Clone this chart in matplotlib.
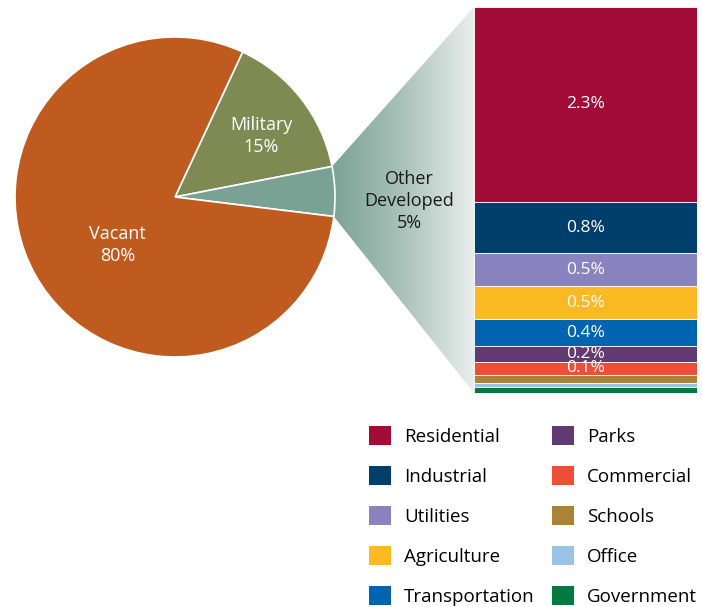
import numpy as np
import matplotlib.pyplot as plt
from matplotlib.patches import Patch, Polygon
from matplotlib.colors import LinearSegmentedColormap

plt.rcParams['font.family'] = ['Open Sans', 'DejaVu Sans']

# land area split (percent)
pie_labels = ['Military\n15%', 'Other\nDeveloped\n5%', 'Vacant\n80%']
pie_values = [15, 5, 80]
pie_colors = ['#7f8a52', '#79a294', '#c05b1f']

# breakdown of "Other Developed", segment sizes as drawn (percent)
land_uses = ['Residential', 'Industrial', 'Utilities', 'Agriculture', 'Transportation',
             'Parks', 'Commercial', 'Schools', 'Office', 'Government']
use_values = [2.53, 0.67, 0.43, 0.43, 0.34, 0.21, 0.17, 0.11, 0.05, 0.075]
use_labels = ['2.3%', '0.8%', '0.5%', '0.5%', '0.4%', '0.2%', '0.1%', '', '', '']
use_colors = ['#a20c37', '#003f6b', '#8983bf', '#fbb924', '#0064b0',
              '#623a73', '#ec4e37', '#ab823a', '#9ac3e8', '#007a3e']

W, H = 702, 607
fig = plt.figure(figsize=(W / 100, H / 100), dpi=100)

# background axes in pixel units, holds the connector fan
bg = fig.add_axes([0, 0, 1, 1])

# pie
cx, cy, r = 175, 197, 160
pad = 1.05
ax_pie = fig.add_axes([(cx - r * pad) / W, (H - cy - r * pad) / H, 2 * r * pad / W, 2 * r * pad / H])
wedges, _ = ax_pie.pie(pie_values, colors=pie_colors, startangle=65, counterclock=False,
                       wedgeprops=dict(edgecolor='white', linewidth=1.2))
ax_pie.set_xlim(-pad, pad)
ax_pie.set_ylim(-pad, pad)
ax_pie.axis('off')
ax_pie.text(0.54, 0.38, pie_labels[0], ha='center', va='center', color='white',
            fontsize=13, linespacing=1.3)
ax_pie.text(-0.36, -0.3, pie_labels[2], ha='center', va='center', color='white',
            fontsize=13, linespacing=1.3)

# stacked bar
bx0, bx1, by0, by1 = 474, 697, 7, 393
ax_bar = fig.add_axes([bx0 / W, (H - by1) / H, (bx1 - bx0) / W, (by1 - by0) / H])
bottoms = np.concatenate([[0], np.cumsum(use_values)[:-1]])
ax_bar.bar(0, use_values, bottom=bottoms, width=1, color=use_colors,
           edgecolor='white', linewidth=0.6)
for v, b, lab in zip(use_values, bottoms, use_labels):
    ax_bar.text(0, b + v / 2, lab, ha='center', va='center', color='white', fontsize=12.5)
ax_bar.set_xlim(-0.5, 0.5)
ax_bar.set_ylim(sum(use_values), 0)
ax_bar.axis('off')

# fan from the "Other Developed" wedge to the bar
bg.set_xlim(0, W)
bg.set_ylim(H, 0)
to_bg = bg.transData.inverted()
w = wedges[1]
pts = []
for t in (w.theta2, w.theta1):
    pts.append(to_bg.transform(ax_pie.transData.transform((np.cos(np.radians(t)), np.sin(np.radians(t))))))
tl = to_bg.transform(ax_bar.transAxes.transform((0, 1)))
bl = to_bg.transform(ax_bar.transAxes.transform((0, 0)))
top_pt = min(pts, key=lambda p: p[1])
bot_pt = max(pts, key=lambda p: p[1])
poly = Polygon([top_pt, tl, bl, bot_pt], closed=True, facecolor='none', edgecolor='none')
bg.add_patch(poly)
cmap = LinearSegmentedColormap.from_list('fan', ['#79a294', '#a9c1b9', '#e9eeec'])
grad = np.linspace(0, 1, 256).reshape(1, -1)
x_left = min(top_pt[0], bot_pt[0]) - 3
im = bg.imshow(grad, cmap=cmap, extent=[x_left, tl[0], bl[1], tl[1]], aspect='auto')
im.set_clip_path(poly)
bg.set_xlim(0, W)
bg.set_ylim(H, 0)
bg.axis('off')
bg.text(409, 201, pie_labels[1], ha='center', va='center', color='#1a1a1a',
        fontsize=13, linespacing=1.3)

# legend
handles = [Patch(facecolor=c, label=l) for c, l in zip(use_colors, land_uses)]
fig.legend(handles=handles, ncol=2, loc='upper left', bbox_to_anchor=(369 / W, 1 - 426 / H),
           frameon=False, fontsize=13.5, handlelength=1.17, handleheight=1.17,
           handletextpad=0.69, labelspacing=1.08, columnspacing=0.95,
           borderaxespad=0, borderpad=0)

fig.savefig('out.png', dpi=100)
